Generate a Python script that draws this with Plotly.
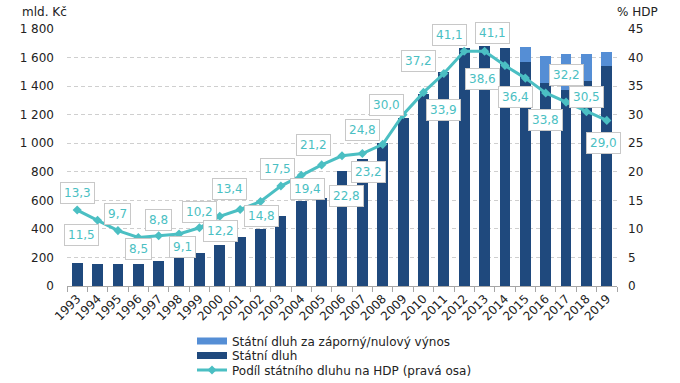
import plotly.graph_objects as go

# ---- data ----
years = [str(y) for y in range(1993, 2020)]
state_debt = [158.8, 157.3, 154.4, 155.2, 173.1, 194.7, 228.4, 289.3, 345.0, 395.9,
              493.2, 592.9, 614.0, 802.5, 892.3, 999.8, 1178.2, 1344.1, 1499.4, 1667.6,
              1683.3, 1663.7, 1570.0, 1420.0, 1375.0, 1437.0, 1540.0]
neg_yield_debt = [None] * 22 + [103.0, 193.0, 250.0, 185.0, 100.0]
debt_to_gdp = [13.3, 11.5, 9.7, 8.5, 8.8, 9.1, 10.2, 12.2, 13.4, 14.8, 17.5, 19.4, 21.2,
               22.8, 23.2, 24.8, 30.0, 33.9, 37.2, 41.1, 41.1, 38.6, 36.4, 33.8, 32.2,
               30.5, 29.0]
left_ticks = list(range(0, 1801, 200))
right_ticks = list(range(0, 46, 5))

name_neg = "Státní dluh za záporný/nulový výnos"
name_debt = "Státní dluh"
name_ratio = "Podíl státního dluhu na HDP (pravá osa)"

# ---- style ----
DARK = "#1F497D"
LIGHT = "#558ED5"
TEAL = "#4BBFC3"
FONT = "DejaVu Sans"
TXT = "#222222"
W, H = 680, 383
L, R, T, B = 67, 63, 29, 97
PW, PH = W - L - R, H - T - B
# label offsets in pixels (dx right, dy down) relative to each point
label_offsets = [(0, -17), (-16, 15), (0, -17), (0, 12), (0, -16), (3, 13), (0, -16),
                 (1, 15), (-11, -20), (1, 15), (-3, -17), (6, 14), (-8, -20), (4, 40),
                 (6, 18), (-20, -14), (-17, -10), (20, 18), (-25, -13), (-15, -16),
                 (8, -18), (-22, 13), (-10, 19), (0, 27), (0, -27), (0, -15), (-3, 23)]

fig = go.Figure()
fig.add_trace(go.Bar(x=years, y=state_debt, marker=dict(color=DARK, line=dict(width=0)),
                     showlegend=False, name=name_debt))
fig.add_trace(go.Bar(x=years, y=neg_yield_debt, marker=dict(color=LIGHT, line=dict(width=0)),
                     showlegend=False, name=name_neg))
fig.add_trace(go.Scatter(x=years, y=debt_to_gdp, yaxis="y2", mode="lines+markers",
                         line=dict(color=TEAL, width=3),
                         marker=dict(symbol="diamond", size=7, color=TEAL),
                         name=name_ratio, legend="legend3"))
# legend-only entries for the bar series (wide rectangle symbols)
fig.add_trace(go.Scatter(x=[None], y=[None], mode="lines", line=dict(color=LIGHT, width=7),
                         name=name_neg, legend="legend"))
fig.add_trace(go.Scatter(x=[None], y=[None], mode="lines", line=dict(color=DARK, width=7),
                         name=name_debt, legend="legend2"))

annotations = []
for i, v in enumerate(debt_to_gdp):
    dx, dy = label_offsets[i]
    annotations.append(dict(x=i, y=v, xref="x", yref="y2", showarrow=False,
                            text=f"{v:.1f}".replace(".", ","),
                            xanchor="center", yanchor="middle",
                            xshift=dx, yshift=-dy,
                            font=dict(family=FONT, size=12, color=TEAL),
                            bgcolor="white", bordercolor="#C8C8C8", borderwidth=1,
                            borderpad=3))

annotations.append(dict(xref="paper", yref="paper", x=(44 - L) / PW, y=1 + (T - 12) / PH,
                        xanchor="center", yanchor="middle",
                        text="mld. Kč", showarrow=False,
                        font=dict(family=FONT, size=12, color=TXT)))
annotations.append(dict(xref="paper", yref="paper", x=(637 - L) / PW, y=1 + (T - 12) / PH,
                        xanchor="center", yanchor="middle",
                        text="% HDP", showarrow=False,
                        font=dict(family=FONT, size=12, color=TXT)))


def leg(py):
    return dict(xref="paper", yref="paper", xanchor="left", yanchor="middle",
                x=(192 - L) / PW, y=(H - B - py) / PH,
                bgcolor="rgba(0,0,0,0)", font=dict(family=FONT, size=12, color=TXT),
                itemwidth=30, tracegroupgap=0)


fig.update_layout(
    width=W, height=H,
    margin=dict(l=L, r=R, t=T, b=B, pad=0, autoexpand=False),
    paper_bgcolor="white", plot_bgcolor="white",
    barmode="stack", bargap=0.47,
    separators=", ",
    font=dict(family=FONT, size=12, color=TXT),
    annotations=annotations,
    xaxis=dict(type="category", range=[-0.5, 26.5], tickangle=-45,
               showline=True, linecolor="#A6A6A6", linewidth=1,
               ticks="outside", tickson="boundaries", ticklen=5, tickcolor="#A6A6A6",
               tickfont=dict(family=FONT, size=12, color=TXT), showgrid=False),
    yaxis=dict(range=[0, 1800], tickvals=left_ticks, tickformat=",.0f",
               showgrid=True, gridcolor="#CFCFCF", griddash="4px,3px", gridwidth=1,
               zeroline=False, showline=False, ticks="", ticklabelstandoff=12,
               tickfont=dict(family=FONT, size=12, color=TXT)),
    yaxis2=dict(range=[0, 45], tickvals=right_ticks, overlaying="y", side="right",
                showgrid=False, zeroline=False, showline=False, ticks="",
                ticklabelstandoff=10,
                tickfont=dict(family=FONT, size=12, color=TXT)),
    legend=leg(341),
    legend2=leg(355.5),
    legend3=leg(370),
    showlegend=True,
)

fig.write_html("out.html",
               config={"displayModeBar": False},
               post_script="document.body.style.margin='0';document.body.style.overflow='hidden';")
